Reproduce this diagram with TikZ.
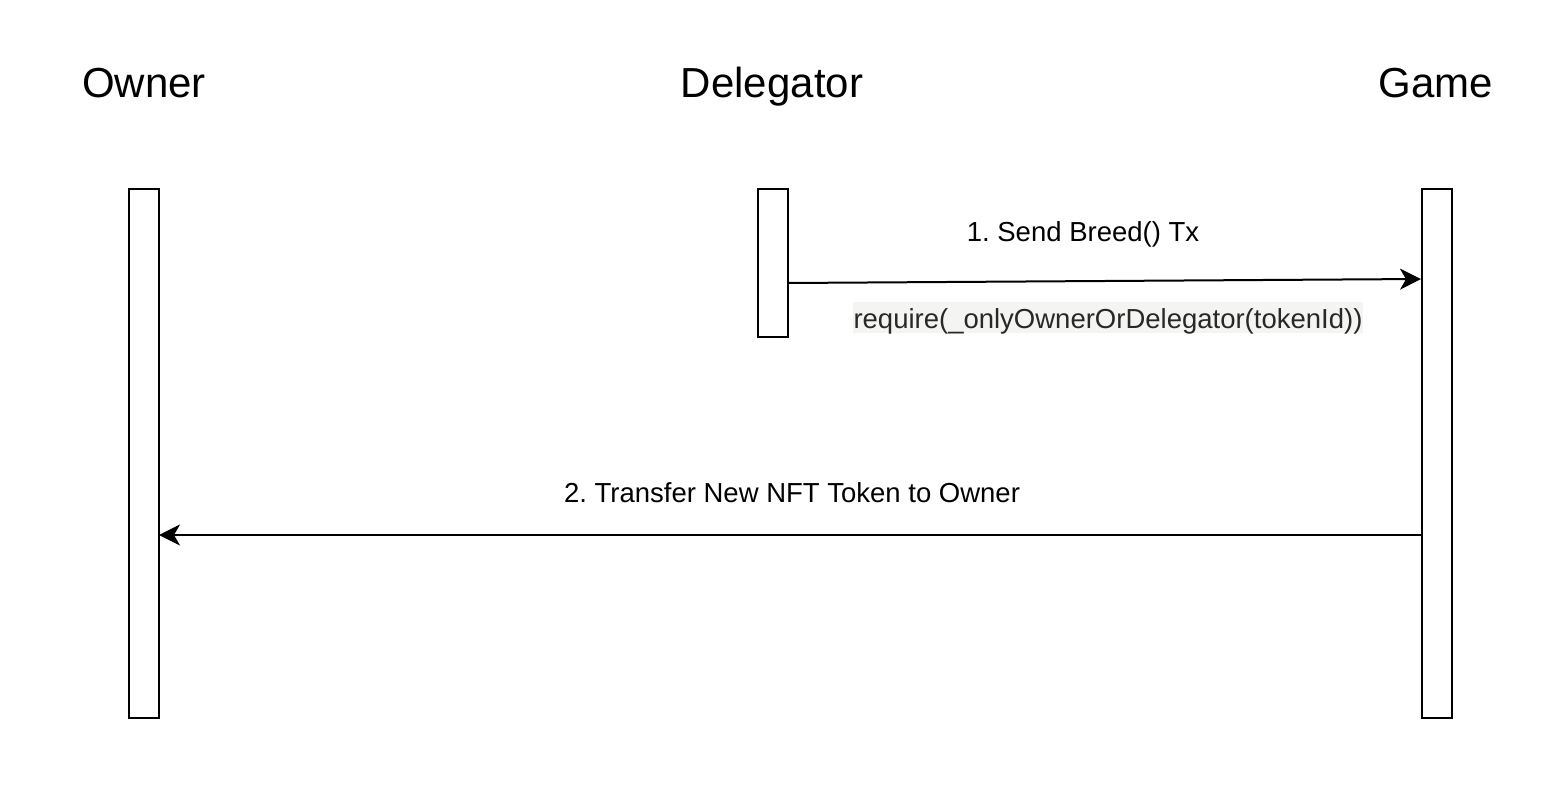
\documentclass[tikz,border=0pt]{standalone}
\usepackage{fontspec}
\setmainfont{Liberation Sans}
\usetikzlibrary{arrows.meta}
\definecolor{reqbg}{RGB}{244,245,243}
\definecolor{reqtx}{RGB}{40,40,40}
\frenchspacing
\tikzset{
  lifebar/.style={draw=black, line width=2.4pt, fill=white, inner sep=0pt, minimum width=30pt},
  actor/.style={font=\fontsize{42}{50}\selectfont, inner sep=0pt, anchor=base},
  msglabel/.style={font=\fontsize{27.5}{33}\selectfont, inner sep=0pt, anchor=base},
  msg/.style={line width=2pt, -{Stealth[length=21pt,width=21pt,inset=6pt]}},
}
\begin{document}
\begin{tikzpicture}[x=1pt,y=-1pt]
\useasboundingbox[fill=white] (0,0) rectangle (1566,792);
\node[actor] (towner) at (144,97) {Owner};
\node[actor] (tdel) at (772,97) {Delegator};
\node[actor] (tgame) at (1436,97) {Game};
\node[lifebar, minimum height=529pt] (owner) at (144,453.5) {};
\node[lifebar, minimum height=148pt] (del) at (773,263) {};
\node[lifebar, minimum height=529pt] (game) at (1437,453.5) {};
\coordinate (m1s) at (788,283);
\coordinate (m1e) at (1421,279);
\coordinate (m2s) at (1422,535);
\coordinate (m2e) at (159,535);
\draw[msg] (m1s) -- (m1e);
\draw[msg] (m2s) -- (m2e);
\node[msglabel] (l1) at (1083,241) {1. Send Breed() Tx};
\node[msglabel, fill=reqbg, text=reqtx, inner xsep=1pt, text height=26pt, text depth=5pt] (l1b) at (1108,328) {require(\_onlyOwnerOrDelegator(tokenId))};
\node[msglabel] (l2) at (792,502) {2. Transfer New NFT Token to Owner};
\end{tikzpicture}
\end{document}
